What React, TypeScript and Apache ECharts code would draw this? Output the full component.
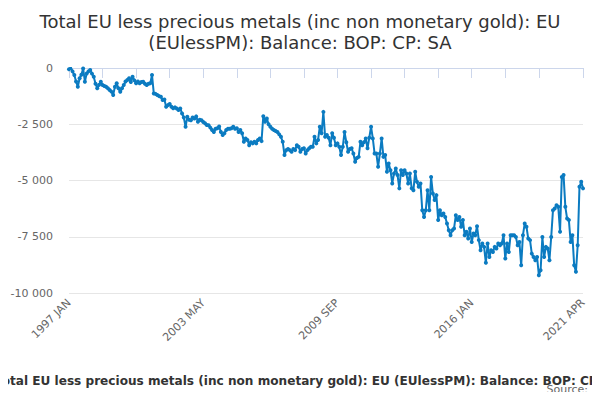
import * as echarts from "echarts";
import { useEffect, useRef } from "react";

const TITLE = "Total EU less precious metals (inc non monetary gold): EU\n(EUlessPM): Balance: BOP: CP: SA";
const AXIS_TITLE = "Total EU less precious metals (inc non monetary gold): EU (EUlessPM): Balance: BOP: CP: SA";
const MONTHS = ["JAN", "FEB", "MAR", "APR", "MAY", "JUN", "JUL", "AUG", "SEP", "OCT", "NOV", "DEC"];
const START_YEAR = 1997;

// monthly balance, 1997 JAN .. 2021 APR (one row per year)
const balance = [
  -60, 40, -150, -310, -600, -830, -460, -300, -20, -610, -240, -150,
  -90, -250, -390, -700, -900, -750, -610, -760, -800, -830, -900, -980,
  -1050, -1200, -830, -680, -900, -1060, -900, -760, -600, -530, -460, -620,
  -390, -550, -680, -600, -680, -620, -610, -700, -760, -700, -680, -310,
  -1130, -1150, -1200, -1250, -1280, -1420, -1400, -1720, -1650, -1600, -1720, -1790,
  -1750, -1800, -1870, -1800, -2020, -2200, -2610, -2170, -2300, -2320, -2200, -2240,
  -2150, -2390, -2300, -2320, -2400, -2460, -2530, -2540, -2650, -2760, -2840, -2700,
  -2680, -2600, -2840, -2980, -2900, -2760, -2700, -2700, -2680, -2610, -2700, -2680,
  -2840, -2760, -2900, -3280, -3130, -3200, -3430, -3300, -3350, -3280, -3350, -3200,
  -3130, -3250, -2140, -2390, -2240, -2500, -2610, -2700, -2760, -2800, -2840, -2950,
  -3060, -3280, -3870, -3650, -3600, -3650, -3720, -3600, -3650, -3430, -3500, -3720,
  -3600, -3570, -3800, -3650, -3570, -3500, -3500, -3060, -3350, -3200, -2610, -2900,
  -1950, -3060, -2980, -3100, -3430, -2900, -3100, -3430, -3350, -3500, -3870, -3500,
  -2840, -3300, -3720, -3600, -3570, -3800, -4170, -4000, -3950, -3280, -3430, -3300,
  -3130, -3570, -3100, -2610, -3130, -3800, -3800, -4390, -3800, -3130, -3950, -3870,
  -4610, -4240, -4540, -5130, -4690, -4470, -4760, -5350, -4540, -4760, -4540, -4690,
  -5130, -4690, -5350, -5430, -4610, -5060, -5280, -5130, -6320, -6620, -6320, -5430,
  -6320, -4840, -5580, -5870, -5650, -6760, -6320, -6540, -6470, -6620, -6910, -7210,
  -7430, -7210, -7130, -6540, -6760, -6620, -7060, -6760, -7430, -7280, -7580, -7130,
  -7730, -7360, -7430, -7030, -7650, -8100, -7800, -7950, -8660, -7800, -8400, -8100,
  -8180, -7950, -8020, -7800, -7880, -7800, -7430, -8470, -7800, -8180, -7430, -7430,
  -7430, -7510, -7880, -7730, -8770, -7430, -6910, -7060, -7580, -7650, -8250, -8400,
  -8540, -8400, -9210, -8990, -7510, -8400, -7950, -8020, -8540, -7510, -6320, -6240,
  -6100, -6170, -7280, -4840, -4760, -6170, -6690, -6760, -7730, -7430, -8770, -9060,
  -7880, -5280, -5060, -5350
];

const months = balance.map((_, i) => `${START_YEAR + Math.floor(i / 12)} ${MONTHS[i % 12]}`);
const LAST = months.length - 1;
const TICK_STEP = 19;
const LABEL_STEP = 76;

const FONT = "DejaVu Sans";
const LINE = "#0b7bc1";

function spaced(value: number) {
  const sign = value < 0 ? "-" : "";
  return sign + String(Math.abs(value)).replace(/\B(?=(\d{3})+(?!\d))/g, " ");
}

export default function App() {
  const ref = useRef<HTMLDivElement | null>(null);

  useEffect(() => {
    if (!ref.current) {
      return;
    }
    const chart = echarts.init(ref.current, undefined, { renderer: "svg" });
    chart.setOption({
      animation: false,
      title: {
        text: TITLE,
        left: "center",
        top: 6,
        textStyle: {
          fontFamily: FONT,
          fontSize: 18,
          fontWeight: "normal",
          color: "#333333",
          lineHeight: 21
        }
      },
      grid: { left: 69, right: 17, top: 68, bottom: 107 },
      xAxis: {
        type: "category",
        data: months,
        boundaryGap: false,
        axisLine: { lineStyle: { color: "#ccd6eb" } },
        axisTick: {
          length: 10,
          lineStyle: { color: "#ccd6eb" },
          interval: (index: number) => (index % TICK_STEP === 0 && index < 270) || index === LAST
        },
        axisLabel: {
          rotate: 45,
          margin: 8,
          fontFamily: FONT,
          fontSize: 11,
          color: "#666666",
          interval: (index: number) => index % LABEL_STEP === 0 || index === LAST
        },
        splitLine: { show: false }
      },
      yAxis: {
        type: "value",
        min: -10000,
        max: 0,
        interval: 2500,
        axisLine: { show: false },
        axisTick: { show: false },
        axisLabel: {
          margin: 16,
          fontFamily: FONT,
          fontSize: 11,
          color: "#666666",
          formatter: (value: number) => spaced(value)
        },
        splitLine: { lineStyle: { color: "#e6e6e6" } }
      },
      graphic: [
        {
          type: "text",
          left: -5,
          top: 375,
          style: {
            text: AXIS_TITLE,
            fontFamily: FONT,
            fontSize: 12.1,
            fontWeight: "bold",
            fill: "#333333"
          }
        },
        {
          type: "text",
          right: 12,
          top: 384,
          style: {
            text: "Source:",
            fontFamily: FONT,
            fontSize: 11,
            fill: "#666666"
          }
        }
      ],
      series: [
        {
          type: "line",
          data: balance,
          showSymbol: true,
          showAllSymbol: true,
          symbol: "circle",
          symbolSize: 4,
          color: LINE,
          lineStyle: { width: 2, color: LINE },
          itemStyle: { color: LINE }
        }
      ]
    });
    return () => chart.dispose();
  }, []);

  return <div ref={ref} style={{ width: 600, height: 400, margin: -8 }} />;
}
